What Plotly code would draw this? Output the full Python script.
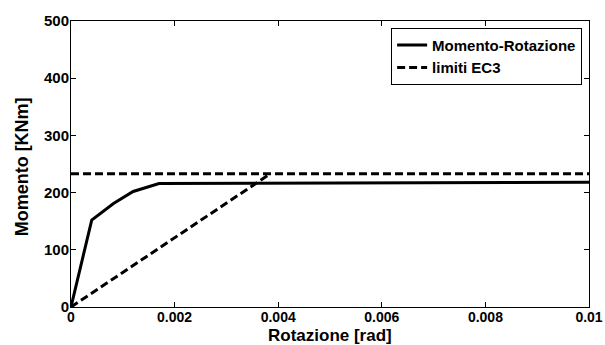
import plotly.graph_objects as go

# Moment-rotation curve
rot_mr = [0.0, 0.0004, 0.00082, 0.0012, 0.0017, 0.01]
mom_mr = [0, 152, 181, 202, 216, 218]

# EC3 limits: elastic diagonal, then horizontal resistance line
rot_ec3 = [0.0, 0.00385, None, 0.0, 0.01]
mom_ec3 = [0, 233, None, 233, 233]

x_ticks = [0, 0.002, 0.004, 0.006, 0.008, 0.01]
x_tick_labels = ["0", "0.002", "0.004", "0.006", "0.008", "0.01"]
y_ticks = [0, 100, 200, 300, 400, 500]

x_title = "Rotazione [rad]"
y_title = "Momento [KNm]"

FONT = "Liberation Sans"

fig = go.Figure()
fig.add_trace(go.Scatter(x=rot_mr, y=mom_mr, mode="lines", name="Momento-Rotazione",
                         line=dict(color="black", width=3)))
fig.add_trace(go.Scatter(x=rot_ec3, y=mom_ec3, mode="lines", name="limiti EC3",
                         connectgaps=False,
                         line=dict(color="black", width=3, dash="8px,4px")))

def tfont(size):
    return dict(family=FONT, size=size, color="black", weight=700)

axis_common = dict(showgrid=False, zeroline=False, showline=True, linecolor="black",
                   linewidth=1, mirror="ticks", ticks="inside", ticklen=5,
                   tickcolor="black", automargin=False)

fig.update_layout(
    width=605, height=345,
    margin=dict(l=71, r=16, t=21, b=38),
    paper_bgcolor="white", plot_bgcolor="white",
    font=dict(family=FONT, color="black"),
    showlegend=True,
    legend=dict(x=0.618, y=0.976, xanchor="left", yanchor="top",
                bordercolor="black", borderwidth=1, bgcolor="white",
                font=tfont(15), tracegroupgap=0, itemwidth=30),
    xaxis=dict(range=[0, 0.01], tickvals=x_ticks, ticktext=x_tick_labels,
               tickfont=tfont(14), ticklabelstandoff=-3, **axis_common),
    yaxis=dict(range=[0, 500], tickvals=y_ticks, tickfont=tfont(15),
               ticklabelstandoff=-2, **axis_common),
    annotations=[
        dict(text=x_title, xref="paper", yref="paper", x=0.5, y=-0.0997,
             xanchor="center", yanchor="middle", showarrow=False, borderpad=0,
             font=tfont(17)),
        dict(text=y_title, xref="paper", yref="paper", x=-0.095, y=0.491,
             xanchor="center", yanchor="middle", textangle=-90, showarrow=False,
             font=tfont(18)),
    ],
)

fig.write_html("out.html")
